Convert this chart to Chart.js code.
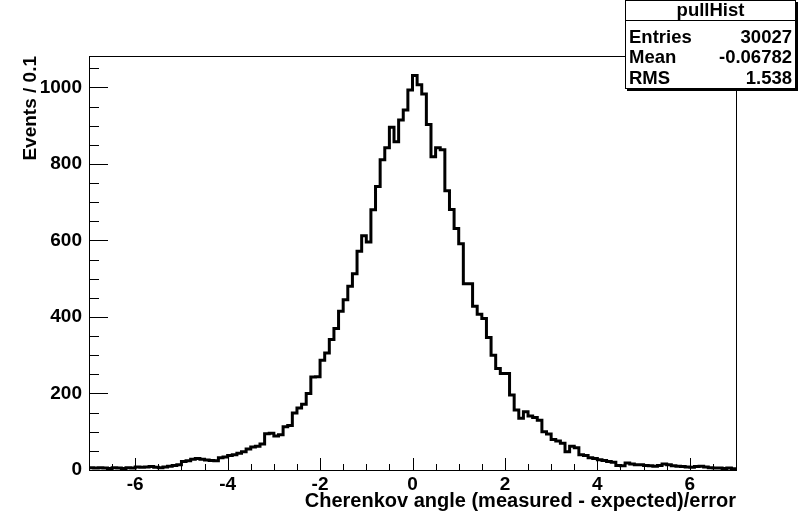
<!DOCTYPE html>
<html>
<head>
<meta charset="utf-8">
<script src="https://cdn.jsdelivr.net/npm/chart.js@4/dist/chart.umd.min.js"></script>
<style>
  html, body { margin: 0; padding: 0; background: #fff; }
</style>
</head>
<body>
<canvas id="c" width="798" height="516"></canvas>
<script>
// histogram binning: 140 bins of 0.1 from -7 to 7
const xMin = -7, xMax = 7, binWidth = 0.1;

// bin contents, split in three pieces (-7..-2.3, -2.2..2.5, 2.6..6.9)
const countsLow = [6, 5, 6, 5, 4, 6, 5, 4, 6, 5, 8, 7, 8, 9, 7, 6, 8, 10, 12, 14,
  22, 24, 28, 30, 28, 26, 25, 24, 32, 34, 38, 40, 44, 48, 55, 60, 62, 68, 95, 96,
  89, 92, 113, 116, 149, 162, 172, 200];
const countsCore = [243, 244, 287, 306, 341, 370, 415, 445, 480, 513, 572, 612,
  596, 680, 741, 811, 842, 896, 858, 915, 941, 993,
  1031, 1007, 983, 903, 819, 842, 837, 730, 681, 631,
  591, 487, 487, 428, 407, 396, 346, 300, 265, 252,
  252, 196, 157, 135, 152, 141];
const countsHigh = [137, 130, 100, 94, 80, 76, 70, 48, 62, 58, 40, 38, 32, 30, 27, 25,
  22, 20, 12, 11, 18, 16, 14, 14, 12, 11, 10, 12, 16, 14, 11, 10, 9, 8, 7, 9,
  10, 8, 6, 5, 5, 4, 5, 3];
const counts = countsLow.concat(countsCore, countsHigh);

const xTicks = [-6, -4, -2, 0, 2, 4, 6];
const yTicks = [0, 200, 400, 600, 800, 1000];
const yMax = 1082;

const xTitle = 'Cherenkov angle (measured - expected)/error';
const yTitle = 'Events / 0.1';
const statsTitle = 'pullHist';
const statsLabels = ['Entries', 'Mean', 'RMS'];
const statsValues = ['30027', '-0.06782', '1.538'];

const FONT = '"Liberation Sans", Arial, Helvetica, sans-serif';

// step points: left edge of each bin, plus closing point at the last edge
const points = counts.map((v, i) => ({ x: xMin + i * binWidth, y: v }));
points.push({ x: xMax, y: counts[counts.length - 1] });

// ROOT style frame, inward ticks, titles and stats box
const rootStyle = {
  id: 'rootStyle',
  afterDatasetsDraw(chart) {
    const { ctx, chartArea: a, scales: { x, y } } = chart;
    ctx.save();
    ctx.strokeStyle = '#000';
    ctx.lineWidth = 1;
    ctx.strokeRect(a.left + 0.5, a.top + 0.5, a.right - a.left, a.bottom - a.top);

    ctx.beginPath();
    for (let v = xMin; v <= xMax + 1e-9; v += 0.5) {
      const px = Math.round(x.getPixelForValue(v)) + 0.5;
      const len = Math.abs(v % 2) < 1e-6 ? 12 : 6;
      ctx.moveTo(px, a.bottom);
      ctx.lineTo(px, a.bottom - len);
    }
    for (let v = 0; v <= yMax; v += 50) {
      const py = Math.round(y.getPixelForValue(v)) + 0.5;
      const len = v % 200 === 0 ? 19 : 10;
      ctx.moveTo(a.left, py);
      ctx.lineTo(a.left + len, py);
    }
    ctx.stroke();

    // axis titles
    ctx.fillStyle = '#000';
    ctx.font = 'bold 20px ' + FONT;
    ctx.textAlign = 'right';
    ctx.textBaseline = 'alphabetic';
    ctx.fillText(xTitle, a.right, 507);
    ctx.save();
    ctx.translate(36, a.top);
    ctx.rotate(-Math.PI / 2);
    ctx.font = 'bold 19px ' + FONT;
    ctx.textAlign = 'right';
    ctx.fillText(yTitle, 0, 0);
    ctx.restore();

    // stats box
    const bx = 625, by = 0, bw = 171, bh = 89;
    ctx.fillStyle = '#000';
    ctx.fillRect(bx + 2, by + 2, bw, bh);
    ctx.fillStyle = '#fff';
    ctx.fillRect(bx, by, bw, bh);
    ctx.strokeRect(bx + 0.5, by + 0.5, bw - 1, bh - 1);
    ctx.beginPath();
    ctx.moveTo(bx, by + 20.5);
    ctx.lineTo(bx + bw, by + 20.5);
    ctx.stroke();
    ctx.fillStyle = '#000';
    ctx.font = 'bold 18.5px ' + FONT;
    ctx.textBaseline = 'middle';
    ctx.textAlign = 'center';
    ctx.fillText(statsTitle, bx + bw / 2, by + 10.5);
    statsLabels.forEach((lab, i) => {
      const ty = by + 37.5 + i * 20.5;
      ctx.textAlign = 'left';
      ctx.fillText(lab, bx + 4, ty);
      ctx.textAlign = 'right';
      ctx.fillText(statsValues[i], bx + bw - 4, ty);
    });
    ctx.restore();
  }
};

new Chart(document.getElementById('c'), {
  type: 'line',
  data: {
    datasets: [{
      data: points,
      stepped: true,
      borderColor: '#000',
      borderWidth: 3,
      pointRadius: 0,
      fill: false,
      tension: 0
    }]
  },
  options: {
    responsive: false,
    animation: false,
    events: [],
    layout: { padding: { left: 0, right: 62, top: 56, bottom: 0 } },
    plugins: { legend: { display: false }, tooltip: { enabled: false } },
    scales: {
      x: {
        type: 'linear',
        min: xMin,
        max: xMax,
        grid: { display: false, drawTicks: false },
        border: { display: false },
        afterBuildTicks: s => { s.ticks = xTicks.map(v => ({ value: v })); },
        afterFit: s => { s.height = 46; },
        ticks: {
          color: '#000',
          padding: 3,
          maxRotation: 0,
          callback: v => String(v),
          font: { family: FONT, size: 19, weight: 'bold' }
        }
      },
      y: {
        min: 0,
        max: yMax,
        grid: { display: false, drawTicks: false },
        border: { display: false },
        afterBuildTicks: s => { s.ticks = yTicks.map(v => ({ value: v })); },
        afterFit: s => { s.width = 89; },
        ticks: {
          color: '#000',
          padding: 7,
          callback: v => String(v),
          font: { family: FONT, size: 19, weight: 'bold' }
        }
      }
    }
  },
  plugins: [rootStyle]
});
</script>
</body>
</html>
